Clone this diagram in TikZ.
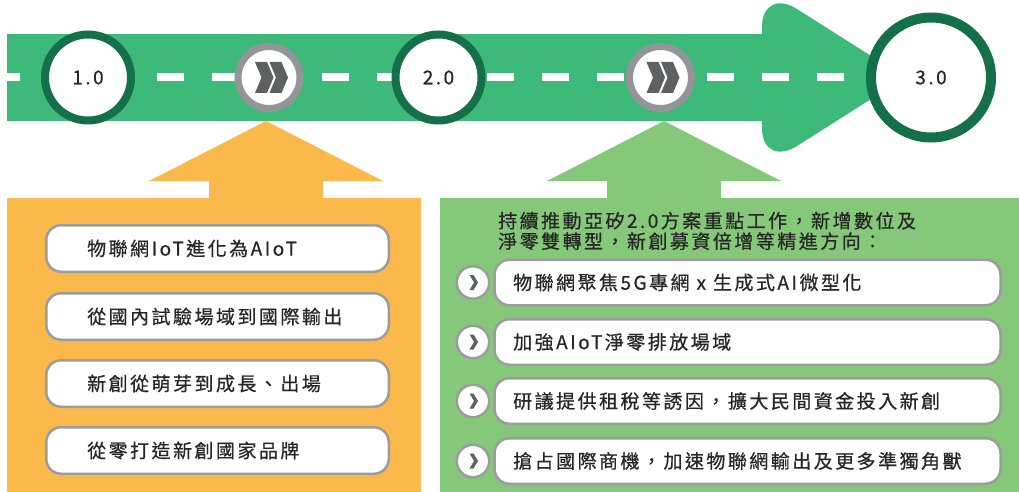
\documentclass[tikz,border=0pt]{standalone}
\usepackage{fontspec}
\usetikzlibrary{calc}
\setmainfont{Noto Sans CJK TC}
\newfontfamily\cjk{Noto Sans CJK TC}[LetterSpace=13,FakeBold=0.6]
\definecolor{road}{HTML}{3DBA7A}
\definecolor{ringgreen}{HTML}{13704A}
\definecolor{orangep}{HTML}{FBB84B}
\definecolor{lgreen}{HTML}{86C879}
\definecolor{ringgray}{HTML}{939598}
\definecolor{chev}{HTML}{5D6161}
\definecolor{boxgray}{HTML}{9C9C9C}
\definecolor{txt}{HTML}{262626}
\newcommand\itemfont{\cjk\fontsize{19}{20.5}\selectfont}
\begin{document}
\begin{tikzpicture}[x=1pt,y=-1pt,
  milestone/.style={circle, draw=ringgreen, line width=8pt, fill=white, minimum size=86pt, inner sep=0pt, font=\itemfont, text=txt},
  bigmile/.style={milestone, line width=10pt, minimum size=120pt},
  ffwd/.style={circle, draw=ringgray, line width=7pt, fill=white, minimum size=62pt, inner sep=0pt},
  itembox/.style={draw=boxgray, line width=2.5pt, fill=white, rounded corners=15pt, inner sep=0pt},
  bubble/.style={circle, draw=boxgray, line width=2.5pt, fill=white, minimum size=32.5pt, inner sep=0pt},
  itemtext/.style={anchor=west, inner sep=0pt, font=\itemfont, text=txt},
  chevshape/.style={fill=chev}
]
\useasboundingbox (0,0) rectangle (1019,492);
% up arrows and panels
\fill[orangep] (209,199) -- (209,181) -- (149,181) -- (266,121) -- (383,181) -- (323,181) -- (323,199) -- cycle;
\fill[lgreen] (607,199) -- (607,181) -- (547,181) -- (664,121) -- (781,181) -- (721,181) -- (721,199) -- cycle;
\fill[orangep] (7,198) rectangle (421,492);
\fill[lgreen] (440,198) rectangle (1019,492);
% road
\fill[road] (7,34) rectangle (763,121);
\fill[road] (762,27) .. controls (762,5) and (777.7,-3.2) .. (797,9) -- (905,77.5) -- (797,146) .. controls (777.7,158.2) and (762,150) .. (762,128) -- cycle;
\fill[white] (7,73.5) rectangle (20,81.5);
\foreach \k in {0,...,12} \fill[white] ({157+55*\k},73.5) rectangle ++(27,8);
% milestones
\node[milestone] (m1) at (88,77.5) {1.0};
\node[milestone] (m2) at (438.5,77.5) {2.0};
\node[bigmile] (m3) at (931,77.5) {3.0};
\node[ffwd] (f1) at (269,77.5) {};
\node[ffwd] (f2) at (660.5,77.5) {};
\foreach \c in {f1,f2}{
  \begin{scope}[shift={(\c.center)}]
    \foreach \dx in {0,14.5}
      \fill[chevshape] (-14+\dx,-15.5) -- (-2+\dx,-15.5) -- (4.5+\dx,0) -- (-2+\dx,15.5) -- (-14+\dx,15.5) -- (-7.5+\dx,0) -- cycle;
  \end{scope}
}
% left items
\node[itembox, minimum width=342.5pt, minimum height=46.5pt] (l1) at (217.5,248.5) {};
\node[itembox, minimum width=342.5pt, minimum height=46.5pt] (l2) at (217.5,316.5) {};
\node[itembox, minimum width=342.5pt, minimum height=46.5pt] (l3) at (217.5,383.5) {};
\node[itembox, minimum width=342.5pt, minimum height=46.5pt] (l4) at (217.5,450.5) {};
\node[itemtext] (lt1) at (87,248.5) {物聯網IoT進化為AIoT};
\node[itemtext] (lt2) at (87,316.5) {從國內試驗場域到國際輸出};
\node[itemtext] (lt3) at (87,383.5) {新創從萌芽到成長、出場};
\node[itemtext] (lt4) at (87,450.5) {從零打造新創國家品牌};
% right header
\node[itemtext, align=left] (hdr) at (498,231) {持續推動亞矽2.0方案重點工作，新增數位及\\淨零雙轉型，新創募資倍增等精進方向：};
% right items
\foreach \n/\yy/\t in {1/282.5/{物聯網聚焦5G專網\hspace{7pt}x\hspace{7pt}生成式AI微型化},2/342/{加強AIoT淨零排放場域},3/401/{研議提供租稅等誘因，擴大民間資金投入新創},4/461/{搶占國際商機，加速物聯網輸出及更多準獨角獸}}{
  \node[itembox, minimum width=506pt, minimum height=45.5pt] (r\n) at (747.5,\yy) {};
  \node[bubble] (b\n) at (473,\yy) {};
  \fill[chevshape] ($(b\n.center)+(-3.5,-7.5)$) -- ++(4,0) -- ++(4.5,7.5) -- ++(-4.5,7.5) -- ++(-4,0) -- ++(4.5,-7.5) -- cycle;
  \node[itemtext] (rt\n) at (513,\yy) {\t};
}
\end{tikzpicture}
\end{document}
